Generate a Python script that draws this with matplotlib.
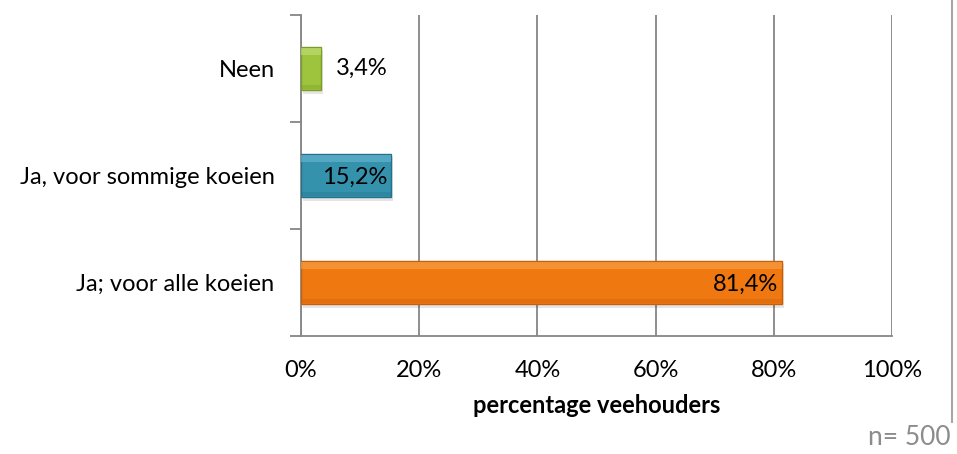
import numpy as np
import matplotlib.pyplot as plt
from matplotlib.lines import Line2D

plt.rcParams["font.family"] = ["Lato", "DejaVu Sans"]

categories = ["Ja; voor alle koeien", "Ja, voor sommige koeien", "Neen"]
values = [81.4, 15.2, 3.4]
value_labels = ["81,4%", "15,2%", "3,4%"]
colors = ["#f07810", "#3592ad", "#9dc43c"]
edge_colors = ["#c85f0a", "#23718a", "#7a9e28"]
light_colors = ["#f7a24a", "#6bb8cf", "#c4e07a"]
x_ticks = [0, 20, 40, 60, 80, 100]
x_tick_labels = ["0%", "20%", "40%", "60%", "80%", "100%"]

fig = plt.figure(figsize=(9.57, 4.54), dpi=100)
ax = fig.add_axes([0.3145, 0.260, 0.6176, 0.707])

y = np.arange(len(categories))
h = 0.41

# shadow
ax.barh(y - 0.03, values, height=h, left=0.4, color="#000000", alpha=0.10, zorder=2)
# main bars
ax.barh(y, values, height=h, color=colors, edgecolor=edge_colors, linewidth=1.0, zorder=3)
# bevel highlight on top, darker strip at bottom
ax.barh(y + h * 0.38, values, height=h * 0.16, color=light_colors, linewidth=0, alpha=0.6, zorder=4)
ax.barh(y - h * 0.42, values, height=h * 0.10, color=edge_colors, linewidth=0, alpha=0.35, zorder=4)

for yi, v, lab in zip(y, values, value_labels):
    if v < 10:
        ax.text(v + 2.5, yi, lab, ha="left", va="center", fontsize=17, zorder=5)
    else:
        ax.text(v - 0.6, yi - 0.02, lab, ha="right", va="center", fontsize=17, zorder=5)

ax.set_xlim(0, 100)
ax.set_ylim(-0.5, 2.5)
ax.set_xticks(x_ticks)
ax.set_xticklabels(x_tick_labels, fontsize=17)
ax.set_yticks(y)
ax.set_yticklabels(categories, fontsize=17)
ax.tick_params(axis="y", length=0, pad=19)
ax.tick_params(axis="x", length=0, pad=17)

# category boundary ticks on the y axis
ax.set_yticks([-0.5, 0.5, 1.5, 2.5], minor=True)
ax.tick_params(axis="y", which="minor", length=8, color="#868686", width=1.3)
ax.set_xticks(x_ticks, minor=True)
ax.tick_params(axis="x", which="minor", length=8, color="#868686", width=1.3)

ax.grid(axis="x", color="#868686", linewidth=1.3, zorder=0)
ax.set_axisbelow(True)
for s in ["top", "right"]:
    ax.spines[s].set_visible(False)
for s in ["left", "bottom"]:
    ax.spines[s].set_color("#868686")
    ax.spines[s].set_linewidth(1.3)

ax.set_xlabel("percentage veehouders", fontsize=17, fontweight="bold", labelpad=10)

fig.text(0.993, 0.037, "n= 500", ha="right", va="center", fontsize=19, color="#8c8c8c")
fig.add_artist(Line2D([0.995, 0.995], [0.07, 1.0], color="#a6a6a6", linewidth=1.5))

fig.savefig("out.png", dpi=100)
